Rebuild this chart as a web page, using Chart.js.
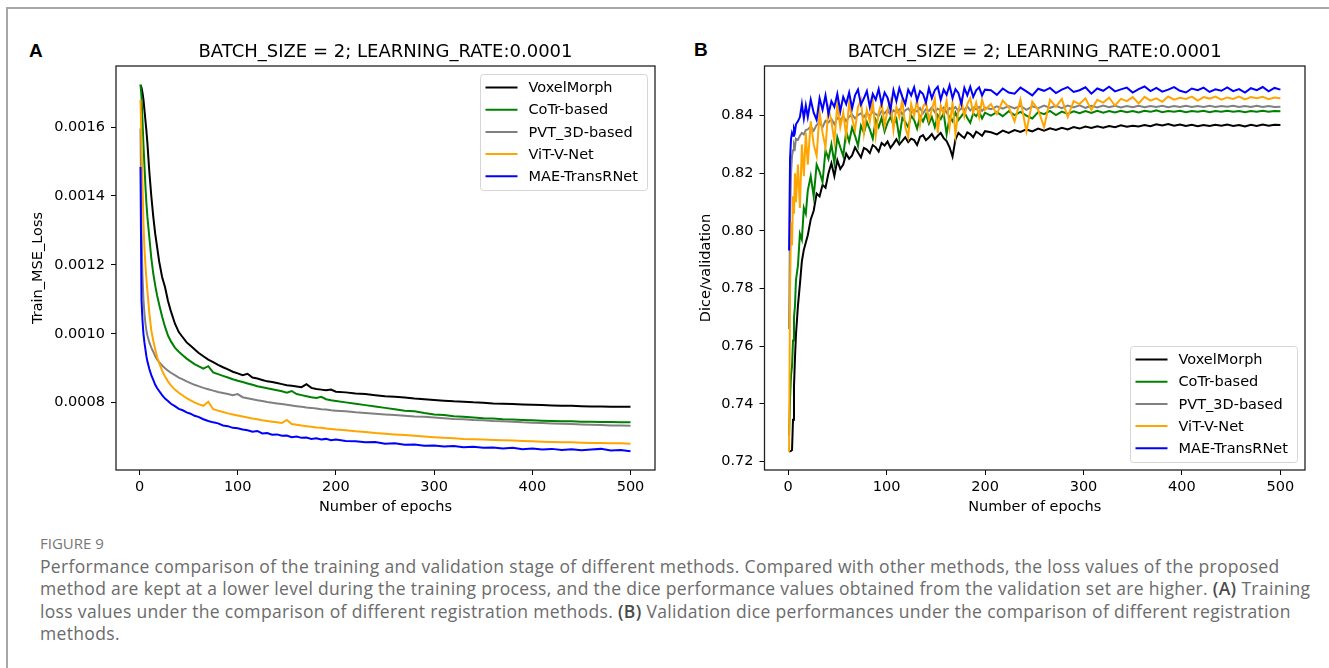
<!DOCTYPE html>
<html>
<head>
<meta charset="utf-8">
<script src="https://cdn.jsdelivr.net/npm/chart.js@4.4.0/dist/chart.umd.min.js"></script>
<style>
  body { margin: 0; width: 1329px; height: 668px; background: #fff; overflow: hidden; position: relative; }
  #frame { position: absolute; left: 6px; top: 7px; width: 1400px; height: 700px; border-top: 2px solid #a8a8a8; border-left: 2px solid #a8a8a8; }
  .panel { position: absolute; font: bold 19px "Liberation Sans", Arial, sans-serif; line-height: 19px; color: #000; }
  canvas { position: absolute; }
  #figno { position: absolute; left: 40px; top: 535px; font: 15px "Open Sans", sans-serif; line-height: 16px; color: #777; }
  #caption { position: absolute; left: 40px; top: 555px; font: 17.5px "Open Sans", sans-serif; letter-spacing: 0.33px; line-height: 22.3px; color: #6b6b6b; white-space: nowrap; }
  #caption b { color: #4a4a4a; font-weight: 600; }
</style>
</head>
<body>
<div id="frame"></div>
<div class="panel" style="left:29px; top:41px;">A</div>
<div class="panel" style="left:694px; top:40px;">B</div>
<canvas id="lossChart" width="655" height="500" style="left:10px; top:30px;"></canvas>
<canvas id="diceChart" width="655" height="500" style="left:670px; top:30px;"></canvas>
<div id="figno">FIGURE 9</div>
<div id="caption">Performance comparison of the training and validation stage of different methods. Compared with other methods, the loss values of the proposed<br>method are kept at a lower level during the training process, and the dice performance values obtained from the validation set are higher. <b>(A)</b> Training<br>loss values under the comparison of different registration methods. <b>(B)</b> Validation dice performances under the comparison of different registration<br>methods.</div>
<script>
const methods = ['VoxelMorph', 'CoTr-based', 'PVT_3D-based', 'ViT-V-Net', 'MAE-TransRNet'];
const colors = ['#000000', '#008000', '#808080', '#ffa500', '#0000ff'];
const plotTitleText = 'BATCH_SIZE = 2; LEARNING_RATE:0.0001';

const epochTicks = [0, 100, 200, 300, 400, 500];
const lossTicks = [0.0008, 0.0010, 0.0012, 0.0014, 0.0016];
const diceTicks = [0.72, 0.74, 0.76, 0.78, 0.80, 0.82, 0.84];

// (A) training loss
const epochsA = [1, 2, 3, 4, 5, 6, 7, 8, 10, 12, 14, 16, 18, 20, 23, 26, 29, 32, 36, 40, 44, 48, 52, 56, 60,
  65, 70, 75, 80, 85, 90, 95, 100, 105, 110, 115, 120, 125, 130, 135, 140, 145, 150, 155, 160, 165, 170, 175, 180, 185, 190, 195, 200,
  210, 220, 230, 240, 250, 260, 270, 280, 290, 300, 310, 320, 330, 340, 350, 360, 370, 380, 390, 400, 410, 420, 430, 440, 450, 460, 470, 480, 490, 500];

const lossVoxelMorph = [0.001722, 0.001715, 0.001700, 0.001680, 0.001650, 0.001620, 0.001590, 0.001555,
  0.001470, 0.001400, 0.001340, 0.001290, 0.001250, 0.001210, 0.001165, 0.001135, 0.001095, 0.001065,
  0.001030, 0.001005, 0.000990, 0.000975, 0.000965, 0.000955, 0.000945,
  0.000935, 0.000925, 0.000918, 0.000910, 0.000903, 0.000897, 0.000890, 0.000885, 0.000880, 0.000884, 0.000873, 0.000870, 0.000866, 0.000862,
  0.000860, 0.000857, 0.000854, 0.000851, 0.000849, 0.000847, 0.000845, 0.000854, 0.000843, 0.000840, 0.000838, 0.000836, 0.000838, 0.000832,
  0.000830, 0.000827, 0.000825, 0.000822, 0.000819, 0.000817, 0.000815, 0.000812, 0.000810, 0.000808,
  0.000806, 0.000804, 0.000803, 0.000801, 0.000800, 0.000798, 0.000797, 0.000796, 0.000795, 0.000794,
  0.000793, 0.000792, 0.000791, 0.000791, 0.000790, 0.000789, 0.000789, 0.000788, 0.000788, 0.000788];
const lossCoTr = [0.001724, 0.001690, 0.001620, 0.001550, 0.001490, 0.001430, 0.001380, 0.001340,
  0.001280, 0.001220, 0.001175, 0.001140, 0.001110, 0.001085, 0.001050, 0.001020, 0.000995, 0.000978,
  0.000960, 0.000948, 0.000938, 0.000928, 0.000920, 0.000912, 0.000906,
  0.000899, 0.000906, 0.000888, 0.000883, 0.000878, 0.000873, 0.000868, 0.000864, 0.000860, 0.000856, 0.000852, 0.000848, 0.000845, 0.000842,
  0.000839, 0.000836, 0.000833, 0.000829, 0.000834, 0.000825, 0.000822, 0.000819, 0.000816, 0.000814, 0.000817, 0.000810, 0.000807, 0.000805,
  0.000801, 0.000797, 0.000793, 0.000789, 0.000785, 0.000781, 0.000777, 0.000775, 0.000770, 0.000766,
  0.000764, 0.000761, 0.000759, 0.000757, 0.000755, 0.000754, 0.000752, 0.000751, 0.000750, 0.000749,
  0.000748, 0.000747, 0.000746, 0.000746, 0.000745, 0.000745, 0.000744, 0.000744, 0.000743, 0.000743];
const lossPVT = [0.001596, 0.001300, 0.001170, 0.001100, 0.001060, 0.001030, 0.001010, 0.000995,
  0.000975, 0.000960, 0.000948, 0.000935, 0.000925, 0.000918, 0.000908, 0.000900, 0.000893, 0.000887,
  0.000880, 0.000873, 0.000868, 0.000862, 0.000857, 0.000852, 0.000848,
  0.000843, 0.000839, 0.000835, 0.000831, 0.000828, 0.000825, 0.000822, 0.000825, 0.000816, 0.000813, 0.000810, 0.000807, 0.000805, 0.000802,
  0.000800, 0.000798, 0.000796, 0.000794, 0.000792, 0.000790, 0.000788, 0.000786, 0.000785, 0.000783, 0.000781, 0.000780, 0.000778, 0.000777,
  0.000775, 0.000772, 0.000770, 0.000768, 0.000766, 0.000764, 0.000762, 0.000760, 0.000759, 0.000757,
  0.000755, 0.000753, 0.000752, 0.000750, 0.000749, 0.000747, 0.000746, 0.000745, 0.000743, 0.000742,
  0.000741, 0.000740, 0.000739, 0.000738, 0.000737, 0.000736, 0.000735, 0.000734, 0.000734, 0.000733];
const lossViT = [0.001679, 0.001560, 0.001440, 0.001320, 0.001250, 0.001200, 0.001160, 0.001125,
  0.001060, 0.001010, 0.000980, 0.000955, 0.000932, 0.000915, 0.000893, 0.000876, 0.000862, 0.000850,
  0.000838, 0.000829, 0.000821, 0.000813, 0.000807, 0.000801, 0.000796,
  0.000791, 0.000803, 0.000781, 0.000777, 0.000773, 0.000769, 0.000766, 0.000763, 0.000760, 0.000757, 0.000754, 0.000752, 0.000749, 0.000747,
  0.000745, 0.000743, 0.000741, 0.000750, 0.000738, 0.000736, 0.000734, 0.000732, 0.000730, 0.000728, 0.000727, 0.000725, 0.000724, 0.000722,
  0.000720, 0.000717, 0.000715, 0.000712, 0.000710, 0.000708, 0.000706, 0.000704, 0.000702, 0.000700,
  0.000698, 0.000697, 0.000695, 0.000694, 0.000693, 0.000692, 0.000691, 0.000690, 0.000689, 0.000688,
  0.000687, 0.000686, 0.000685, 0.000685, 0.000684, 0.000683, 0.000683, 0.000682, 0.000682, 0.000681];
const lossMAE = [0.001484, 0.001100, 0.001040, 0.001000, 0.000975, 0.000955, 0.000935, 0.000920,
  0.000898, 0.000880, 0.000866, 0.000852, 0.000842, 0.000834, 0.000822, 0.000812, 0.000805, 0.000797,
  0.000790, 0.000782, 0.000778, 0.000772, 0.000768, 0.000762, 0.000759,
  0.000752, 0.000747, 0.000743, 0.000740, 0.000734, 0.000732, 0.000727, 0.000726, 0.000722, 0.000720, 0.000716, 0.000718, 0.000711, 0.000712,
  0.000707, 0.000708, 0.000704, 0.000705, 0.000700, 0.000702, 0.000698, 0.000699, 0.000695, 0.000697, 0.000693, 0.000695, 0.000691, 0.000693,
  0.000689, 0.000688, 0.000685, 0.000686, 0.000681, 0.000682, 0.000678, 0.000679, 0.000675, 0.000676,
  0.000673, 0.000674, 0.000671, 0.000672, 0.000669, 0.000670, 0.000667, 0.000669, 0.000665, 0.000667,
  0.000664, 0.000666, 0.000663, 0.000665, 0.000662, 0.000664, 0.000666, 0.000661, 0.000663, 0.000659];

// (B) validation dice
const epochsB = [1, 2, 3, 4, 5, 6, 7, 8, 10, 12, 14, 16, 18,
  20, 23, 26, 29, 32, 35, 38, 41, 44, 47, 50, 53, 56, 59, 62, 65, 68, 71, 74, 77, 80, 83, 86, 89, 92, 95, 98,
  101, 104, 107, 110, 113, 116, 119, 122, 125, 128, 131, 134, 137, 140, 143, 146, 149, 152, 155, 158, 161, 164, 167,
  170, 173, 176, 179, 182, 185, 188, 191, 194, 197, 200,
  206, 212, 218, 224, 230, 236, 242, 248, 254, 260, 266, 272, 278, 284, 290, 296, 302, 308, 314, 320,
  326, 332, 338, 344, 350, 356, 362, 368, 374, 380, 386, 392, 398, 404, 410, 416, 422, 428, 434, 440,
  446, 452, 458, 464, 470, 476, 482, 488, 494, 500];

const diceVoxelMorph = [0.7235, 0.7236, 0.7237, 0.7240, 0.7345, 0.7460, 0.7560, 0.7640, 0.7740, 0.7815, 0.7895, 0.7935, 0.7960,
  0.7985, 0.8040, 0.8070, 0.8130, 0.8120, 0.8160, 0.8150, 0.8200, 0.8235, 0.8190,
  0.8245, 0.8215, 0.8230, 0.8268, 0.8250, 0.8262, 0.8290, 0.8272, 0.8255, 0.8288,
  0.8282, 0.8270, 0.8298, 0.8290, 0.8275, 0.8305, 0.8296, 0.8310, 0.8288, 0.8302,
  0.8318, 0.8300, 0.8312, 0.8325, 0.8308, 0.8320, 0.8315, 0.8298, 0.8326, 0.8332,
  0.8315, 0.8324, 0.8336, 0.8318, 0.8330, 0.8340, 0.8322, 0.8312, 0.8290, 0.8258,
  0.8318, 0.8340, 0.8330, 0.8322, 0.8342, 0.8336, 0.8325, 0.8344, 0.8338, 0.8330, 0.8346,
  0.8342, 0.8335, 0.8348, 0.8340, 0.8350, 0.8343, 0.8352, 0.8345, 0.8355, 0.8348,
  0.8356, 0.8350, 0.8358, 0.8352, 0.8360, 0.8355, 0.8362, 0.8357, 0.8363, 0.8358,
  0.8364, 0.8360, 0.8366, 0.8361, 0.8365, 0.8362, 0.8367, 0.8363, 0.8370, 0.8366,
  0.8371, 0.8365, 0.8369, 0.8364, 0.8368, 0.8363, 0.8367, 0.8364, 0.8368, 0.8365,
  0.8369, 0.8364, 0.8367, 0.8362, 0.8368, 0.8364, 0.8369, 0.8365, 0.8368, 0.8367];
const diceCoTr = [0.7290, 0.7420, 0.7500, 0.7530, 0.7620, 0.7700, 0.7740, 0.7830, 0.7880, 0.7990, 0.7970, 0.8080, 0.8060,
  0.8140, 0.8190, 0.8120, 0.8230, 0.8205, 0.8170, 0.8280, 0.8250, 0.8300, 0.8235,
  0.8325, 0.8290, 0.8260, 0.8345, 0.8310, 0.8358, 0.8330, 0.8295, 0.8365, 0.8340,
  0.8378, 0.8352, 0.8320, 0.8385, 0.8360, 0.8392, 0.8345, 0.8375, 0.8395, 0.8368,
  0.8388, 0.8322, 0.8392, 0.8378, 0.8360, 0.8400, 0.8385, 0.8355, 0.8398, 0.8380,
  0.8405, 0.8372, 0.8395, 0.8360, 0.8402, 0.8388, 0.8408, 0.8335, 0.8395, 0.8380,
  0.8410, 0.8385, 0.8398, 0.8412, 0.8392, 0.8375, 0.8408, 0.8398, 0.8414, 0.8390, 0.8410,
  0.8400, 0.8412, 0.8398, 0.8415, 0.8402, 0.8413, 0.8400, 0.8390, 0.8412, 0.8405,
  0.8416, 0.8402, 0.8414, 0.8406, 0.8415, 0.8408, 0.8416, 0.8409, 0.8417, 0.8410,
  0.8416, 0.8411, 0.8417, 0.8412, 0.8416, 0.8411, 0.8417, 0.8413, 0.8418, 0.8412,
  0.8416, 0.8413, 0.8417, 0.8412, 0.8416, 0.8413, 0.8417, 0.8412, 0.8416, 0.8413,
  0.8417, 0.8413, 0.8416, 0.8412, 0.8416, 0.8413, 0.8417, 0.8413, 0.8416, 0.8415];
const dicePVT = [0.7660, 0.8050, 0.8200, 0.8260, 0.8280, 0.8300, 0.8290, 0.8320, 0.8316, 0.8330, 0.8340, 0.8335, 0.8350,
  0.8352, 0.8362, 0.8348, 0.8368, 0.8375, 0.8360, 0.8382, 0.8376, 0.8388, 0.8370,
  0.8392, 0.8385, 0.8398, 0.8380, 0.8396, 0.8404, 0.8390, 0.8402, 0.8408, 0.8395,
  0.8410, 0.8400, 0.8414, 0.8405, 0.8398, 0.8416, 0.8408, 0.8420, 0.8402, 0.8418,
  0.8412, 0.8422, 0.8405, 0.8418, 0.8425, 0.8410, 0.8420, 0.8414, 0.8426, 0.8408,
  0.8422, 0.8416, 0.8428, 0.8412, 0.8424, 0.8418, 0.8428, 0.8410, 0.8426, 0.8420,
  0.8430, 0.8415, 0.8425, 0.8420, 0.8432, 0.8418, 0.8428, 0.8422, 0.8430, 0.8416, 0.8428,
  0.8422, 0.8432, 0.8424, 0.8433, 0.8425, 0.8434, 0.8420, 0.8432, 0.8426, 0.8435,
  0.8427, 0.8434, 0.8426, 0.8435, 0.8428, 0.8436, 0.8427, 0.8434, 0.8428, 0.8435,
  0.8429, 0.8434, 0.8428, 0.8433, 0.8429, 0.8434, 0.8429, 0.8433, 0.8430, 0.8434,
  0.8429, 0.8433, 0.8430, 0.8434, 0.8430, 0.8433, 0.8430, 0.8434, 0.8430, 0.8433,
  0.8431, 0.8434, 0.8430, 0.8433, 0.8430, 0.8434, 0.8430, 0.8433, 0.8430, 0.8431];
const diceViT = [0.7234, 0.7800, 0.8030, 0.7950, 0.8120, 0.8060, 0.8200, 0.8100, 0.8230, 0.8080, 0.8300, 0.8190, 0.8340,
  0.8230, 0.8380, 0.8300, 0.8260, 0.8410, 0.8340, 0.8290, 0.8425, 0.8380, 0.8310,
  0.8440, 0.8360, 0.8410, 0.8330, 0.8445, 0.8390, 0.8350, 0.8430, 0.8455, 0.8340,
  0.8420, 0.8380, 0.8450, 0.8330, 0.8410, 0.8445, 0.8365, 0.8420, 0.8452, 0.8350,
  0.8430, 0.8395, 0.8455, 0.8360, 0.8325, 0.8440, 0.8400, 0.8455, 0.8370, 0.8430,
  0.8448, 0.8385, 0.8420, 0.8458, 0.8340, 0.8435, 0.8405, 0.8452, 0.8360, 0.8445,
  0.8335, 0.8420, 0.8455, 0.8398, 0.8440, 0.8460, 0.8410, 0.8445, 0.8395, 0.8455, 0.8420,
  0.8440, 0.8405, 0.8452, 0.8430, 0.8380, 0.8455, 0.8345, 0.8448, 0.8420, 0.8360,
  0.8455, 0.8430, 0.8458, 0.8395, 0.8450, 0.8440, 0.8460, 0.8420, 0.8455, 0.8445,
  0.8462, 0.8435, 0.8458, 0.8450, 0.8464, 0.8442, 0.8465, 0.8452, 0.8460, 0.8448,
  0.8466, 0.8455, 0.8462, 0.8458, 0.8466, 0.8452, 0.8464, 0.8459, 0.8466, 0.8455,
  0.8463, 0.8458, 0.8466, 0.8456, 0.8464, 0.8460, 0.8465, 0.8457, 0.8463, 0.8460];
const diceMAE = [0.7932, 0.8250, 0.8320, 0.8340, 0.8330, 0.8355, 0.8345, 0.8370, 0.8380, 0.8395, 0.8440, 0.8390, 0.8435,
  0.8395, 0.8455, 0.8410, 0.8385, 0.8460, 0.8420, 0.8470, 0.8405, 0.8450, 0.8430,
  0.8475, 0.8415, 0.8465, 0.8440, 0.8480, 0.8425, 0.8470, 0.8490, 0.8438, 0.8460,
  0.8485, 0.8430, 0.8475, 0.8455, 0.8492, 0.8440, 0.8480, 0.8462, 0.8420, 0.8488,
  0.8450, 0.8495, 0.8465, 0.8440, 0.8490, 0.8470, 0.8498, 0.8452, 0.8485, 0.8475,
  0.8445, 0.8495, 0.8460, 0.8488, 0.8500, 0.8455, 0.8490, 0.8472, 0.8505, 0.8460,
  0.8492, 0.8478, 0.8440, 0.8496, 0.8470, 0.8500, 0.8465, 0.8488, 0.8498, 0.8470, 0.8490,
  0.8488, 0.8472, 0.8494, 0.8480, 0.8476, 0.8497, 0.8484, 0.8470, 0.8493, 0.8486,
  0.8496, 0.8478, 0.8490, 0.8499, 0.8482, 0.8488, 0.8498, 0.8476, 0.8494, 0.8486,
  0.8500, 0.8484, 0.8491, 0.8497, 0.8480, 0.8492, 0.8501, 0.8485, 0.8496, 0.8483,
  0.8490, 0.8499, 0.8486, 0.8480, 0.8494, 0.8488, 0.8497, 0.8482, 0.8491, 0.8486,
  0.8498, 0.8485, 0.8492, 0.8480, 0.8495, 0.8488, 0.8499, 0.8484, 0.8496, 0.8490];

const FONT = '"DejaVu Sans", sans-serif';
Chart.defaults.font.family = FONT;
Chart.defaults.font.size = 14.5;
Chart.defaults.color = '#000';

// axes box on all four sides, like matplotlib
const frame = {
  id: 'frame',
  afterDatasetsDraw(chart) {
    const { ctx, chartArea: a } = chart;
    ctx.save();
    ctx.strokeStyle = '#222';
    ctx.lineWidth = 1.3;
    ctx.strokeRect(a.left, a.top, a.right - a.left, a.bottom - a.top);
    ctx.restore();
  }
};

// title centred over the plot area
const plotTitle = {
  id: 'plotTitle',
  afterDraw(chart, args, opts) {
    const { ctx, chartArea: a } = chart;
    ctx.save();
    ctx.font = '18px ' + FONT;
    ctx.fillStyle = '#000';
    ctx.textAlign = 'center';
    ctx.textBaseline = 'alphabetic';
    ctx.fillText(opts.text, (a.left + a.right) / 2, a.top - 9);
    ctx.restore();
  }
};

// framed legend inside the axes
const boxLegend = {
  id: 'boxLegend',
  afterDraw(chart, args, opts) {
    const { ctx, chartArea: a } = chart;
    const w = 167, h = 116;
    const x = Math.round(a.right - 8 - w) + 0.5;
    const y = Math.round(opts.corner === 'top' ? a.top + 8 : a.bottom - 8 - h) + 0.5;
    ctx.save();
    ctx.fillStyle = 'rgba(255,255,255,0.85)';
    ctx.strokeStyle = '#d6d6d6';
    ctx.lineWidth = 1;
    ctx.beginPath();
    ctx.roundRect(x, y, w, h, 3);
    ctx.fill();
    ctx.stroke();
    ctx.font = '14.5px ' + FONT;
    ctx.textBaseline = 'middle';
    chart.data.datasets.forEach((ds, i) => {
      const ly = y + 13 + i * 22.2;
      ctx.strokeStyle = ds.borderColor;
      ctx.lineWidth = 2;
      ctx.beginPath();
      ctx.moveTo(x + 5, ly);
      ctx.lineTo(x + 37, ly);
      ctx.stroke();
      ctx.fillStyle = '#000';
      ctx.fillText(ds.label, x + 48, ly + 1);
    });
    ctx.restore();
  }
};

function buildChart(id, xs, series, cfg) {
  return new Chart(document.getElementById(id), {
    type: 'line',
    data: {
      datasets: series.map((ys, i) => ({
        label: methods[i],
        data: xs.map((x, j) => ({ x: x, y: ys[j] })),
        borderColor: colors[i],
        borderWidth: 2,
        pointRadius: 0,
        tension: 0,
        order: series.length - i
      }))
    },
    options: {
      responsive: false,
      animation: false,
      layout: { padding: { top: 36, right: cfg.padRight, left: 0, bottom: 0 } },
      plugins: {
        legend: { display: false },
        tooltip: { enabled: false },
        plotTitle: { text: plotTitleText },
        boxLegend: { corner: cfg.legendCorner }
      },
      scales: {
        x: {
          type: 'linear',
          min: -23.95,
          max: 524.95,
          afterBuildTicks: s => { s.ticks = epochTicks.map(v => ({ value: v })); },
          afterFit: s => { s.height = 60; },
          grid: { drawOnChartArea: false, tickLength: 5, color: '#000', lineWidth: 1 },
          border: { display: false },
          ticks: { padding: 4, maxRotation: 0, autoSkip: false, callback: v => String(v) },
          title: { display: true, text: 'Number of epochs', padding: { top: 0, bottom: 14 } }
        },
        y: {
          type: 'linear',
          min: cfg.yMin,
          max: cfg.yMax,
          afterBuildTicks: s => { s.ticks = cfg.yTicks.map(v => ({ value: v })); },
          afterFit: s => { s.width = cfg.yWidth; },
          grid: { drawOnChartArea: false, tickLength: 5, color: '#000', lineWidth: 1 },
          border: { display: false },
          ticks: { padding: 6, autoSkip: false, callback: v => v.toFixed(cfg.digits) },
          title: { display: true, text: cfg.yLabel, padding: { top: cfg.yTitlePad, bottom: 0 } }
        }
      }
    },
    plugins: [frame, plotTitle, boxLegend]
  });
}

buildChart('lossChart', epochsA, [lossVoxelMorph, lossCoTr, lossPVT, lossViT, lossMAE], {
  padRight: 10, yMin: 0.0006047, yMax: 0.0017773, yTicks: lossTicks, digits: 4,
  yWidth: 106, yLabel: 'Train_MSE_Loss', yTitlePad: 19.3, legendCorner: 'top'
});
buildChart('diceChart', epochsB, [diceVoxelMorph, diceCoTr, dicePVT, diceViT, diceMAE], {
  padRight: 20, yMin: 0.7171, yMax: 0.8572, yTicks: diceTicks, digits: 2,
  yWidth: 94.5, yLabel: 'Dice/validation', yTitlePad: 27.3, legendCorner: 'bottom'
});
</script>
</body>
</html>
